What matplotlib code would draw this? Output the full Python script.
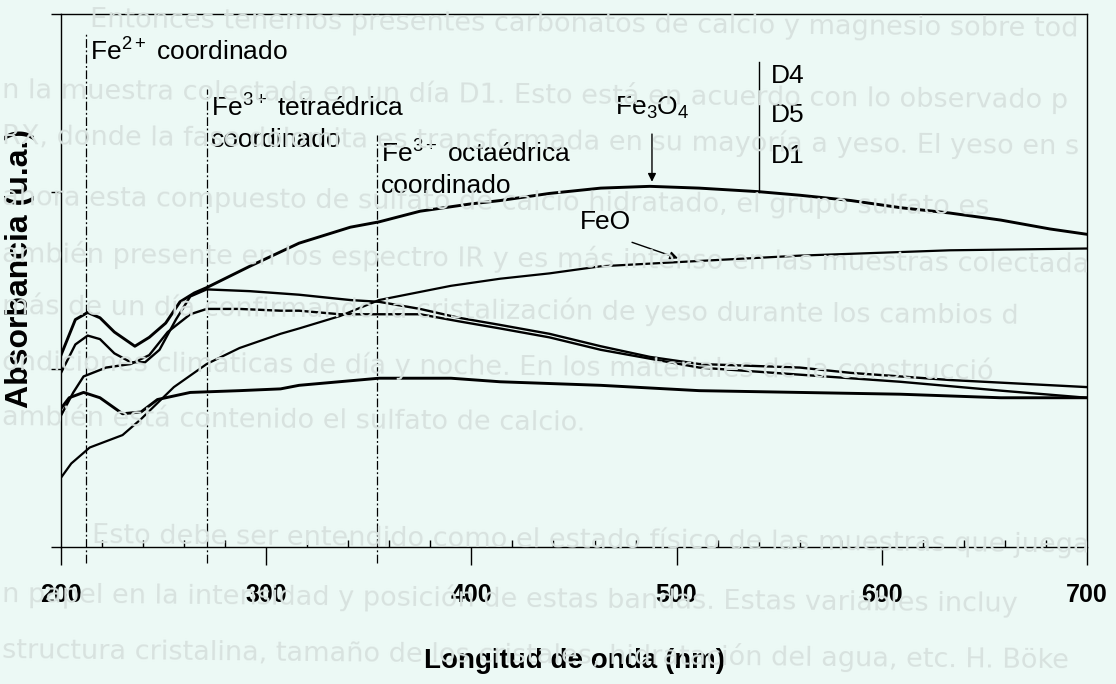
import matplotlib
matplotlib.use("Agg")
import matplotlib.pyplot as plt
from matplotlib.ticker import MultipleLocator

plt.rcParams["font.family"] = ["Liberation Sans", "DejaVu Sans"]
plt.rcParams["mathtext.fontset"] = "custom"
plt.rcParams["mathtext.rm"] = "Liberation Sans"
plt.rcParams["mathtext.it"] = "Liberation Sans:italic"
plt.rcParams["mathtext.bf"] = "Liberation Sans:bold"

# spectra: wavelength (nm) and absorbance (u.a.)
wl_a = [200, 207, 213, 219, 226, 236, 243, 251, 258, 265, 271, 292, 316, 341, 355,
        375, 399, 414, 438, 463, 487, 511, 540, 560, 585, 609, 633, 658, 682, 700]
abs_a = [1.08, 1.28, 1.32, 1.29, 1.21, 1.13, 1.18, 1.26, 1.38, 1.43, 1.46, 1.58, 1.71, 1.80, 1.83,
         1.89, 1.93, 1.95, 1.99, 2.02, 2.03, 2.02, 2.00, 1.98, 1.95, 1.91, 1.88, 1.84, 1.79, 1.76]

wl_b = [200, 207, 213, 219, 226, 234, 241, 248, 256, 263, 271, 292, 316, 341, 355,
        375, 394, 414, 438, 463, 487, 511, 560, 585, 633, 700]
abs_b = [0.98, 1.14, 1.19, 1.17, 1.09, 1.04, 1.04, 1.11, 1.28, 1.41, 1.45, 1.44, 1.42, 1.39, 1.38,
         1.34, 1.29, 1.25, 1.20, 1.13, 1.07, 1.03, 1.01, 0.98, 0.94, 0.90]

wl_c = [200, 206, 211, 222, 234, 243, 252, 263, 271, 287, 307, 316, 336, 355, 375,
        394, 414, 438, 463, 487, 511, 560, 609, 658, 700]
abs_c = [0.74, 0.87, 0.96, 1.01, 1.03, 1.08, 1.21, 1.31, 1.34, 1.34, 1.33, 1.33, 1.31, 1.31, 1.31,
         1.27, 1.23, 1.18, 1.11, 1.06, 1.01, 0.97, 0.93, 0.88, 0.84]

wl_d = [200, 204, 211, 219, 230, 239, 247, 263, 287, 307, 316, 355, 390, 414, 463,
        511, 560, 609, 658, 700]
abs_d = [0.78, 0.84, 0.87, 0.84, 0.75, 0.76, 0.83, 0.87, 0.88, 0.89, 0.91, 0.95, 0.95, 0.93, 0.91,
         0.88, 0.87, 0.86, 0.84, 0.84]

wl_e = [200, 205, 214, 230, 239, 247, 255, 271, 287, 307, 316, 336, 355, 390, 414,
        438, 463, 511, 560, 633, 700]
abs_e = [0.39, 0.47, 0.56, 0.63, 0.72, 0.81, 0.90, 1.03, 1.12, 1.20, 1.23, 1.30, 1.39, 1.47, 1.51,
         1.54, 1.58, 1.61, 1.64, 1.67, 1.68]

# band positions (dash-dot guides) and their labels
band_wl = [212, 271, 354]
band_top = [2.89, 2.58, 2.32]
band_labels = ["Fe$^{2+}$ coordinado",
               "Fe$^{3+}$ tetraédrica\ncoordinado",
               "Fe$^{3+}$ octaédrica\ncoordinado"]

xticks = [200, 300, 400, 500, 600, 700]

# text showing through from the back of the scanned page (left px, centre px, text)
bleed_lines = [
    (90, 20, "Entonces tenemos presentes carbonatos de calcio y magnesio sobre tod"),
    (2, 90, "n la muestra colectada en un día D1. Esto está en acuerdo con lo observado p"),
    (2, 136, "RX, donde la fase dolomita es transformada en su mayoría a yeso. El yeso en s"),
    (2, 198, "ahora esta compuesto de sulfato de calcio hidratado, el grupo sulfato es"),
    (2, 254, "ambién presente en los espectro IR y es más intenso en las muestras colectada"),
    (2, 306, "más de un día confirmando la cristalización de yeso durante los cambios d"),
    (2, 362, "ondiciones climáticas de día y noche. En los materiales de la construcció"),
    (2, 418, "ambién está contenido el sulfato de calcio."),
    (92, 535, "Esto debe ser entendido como el estado físico de las muestras que juega"),
    (2, 594, "n papel en la intensidad y posición de estas bandas. Estas variables incluy"),
    (2, 650, "structura cristalina, tamaño de los cristales, hidratación del agua, etc. H. Böke"),
]

W, H = 1116, 684
bg = "#ecf9f5"
fig = plt.figure(figsize=(W / 100, H / 100), dpi=100, facecolor=bg)
ax = fig.add_axes([61 / W, 1 - 547 / H, 1026 / W, 533 / H])
ax.set_facecolor("none")

for x, y, s in bleed_lines:
    fig.text(x / W, 1 - y / H, s, fontsize=19.5, family="DejaVu Sans", color="#d8e2df",
             va="center", rotation=-0.55, rotation_mode="anchor", zorder=0)

for wl, ab, lw in [(wl_a, abs_a, 2.1), (wl_b, abs_b, 1.7), (wl_c, abs_c, 1.7),
                   (wl_d, abs_d, 2.1), (wl_e, abs_e, 1.6)]:
    ax.plot(wl, ab, color="black", lw=lw, zorder=3)

for w, top, lab in zip(band_wl, band_top, band_labels):
    ax.plot([w, w], [-0.09, top], color="black", lw=0.9,
            ls=(0, (7, 2, 1.5, 2)), clip_on=False, zorder=2)
    ax.text(w + 2, top - 0.03, lab, fontsize=19, va="top", ha="left",
            linespacing=1.35, zorder=4)

# Fe3O4 and FeO markers, D4/D5/D1 pointer
ax.text(470, 2.47, "Fe$_3$O$_4$", fontsize=19, va="center", ha="left")
ax.annotate("", xy=(488, 2.04), xytext=(488, 2.34),
            arrowprops=dict(arrowstyle="-|>", color="black", lw=1, mutation_scale=12))
ax.plot([540, 540], [2.00, 2.73], color="black", lw=1)
for lab, y in zip(["D4", "D5", "D1"], [2.65, 2.43, 2.20]):
    ax.text(546, y, lab, fontsize=19, va="center", ha="left")
ax.text(453, 1.83, "FeO", fontsize=19, va="center", ha="left")
ax.annotate("", xy=(502, 1.62), xytext=(477, 1.72),
            arrowprops=dict(arrowstyle="-|>", color="black", lw=1, mutation_scale=12))

ax.set_xlim(200, 700)
ax.set_ylim(0, 3)
ax.set_xticks(xticks)
ax.set_xticklabels([str(t) for t in xticks], fontsize=18, fontweight="bold")
ax.xaxis.set_minor_locator(MultipleLocator(20))
ax.tick_params(axis="x", which="major", direction="out", length=13, width=1, pad=13)
ax.tick_params(axis="x", which="minor", direction="in", length=5, width=1)
ax.set_yticks([0, 1, 2, 3])
ax.set_yticklabels([])
ax.tick_params(axis="y", direction="out", length=7, width=1)
for sp in ax.spines.values():
    sp.set_linewidth(1)

ax.set_xlabel("Longitud de onda (nm)", fontsize=20, fontweight="bold")
ax.xaxis.set_label_coords(0.5, -0.19)
ax.set_ylabel("Absorbancia (u.a.)", fontsize=23, fontweight="bold")
ax.yaxis.set_label_coords(-0.025, 0.523)

fig.savefig("out.png", dpi=100, facecolor=bg)
